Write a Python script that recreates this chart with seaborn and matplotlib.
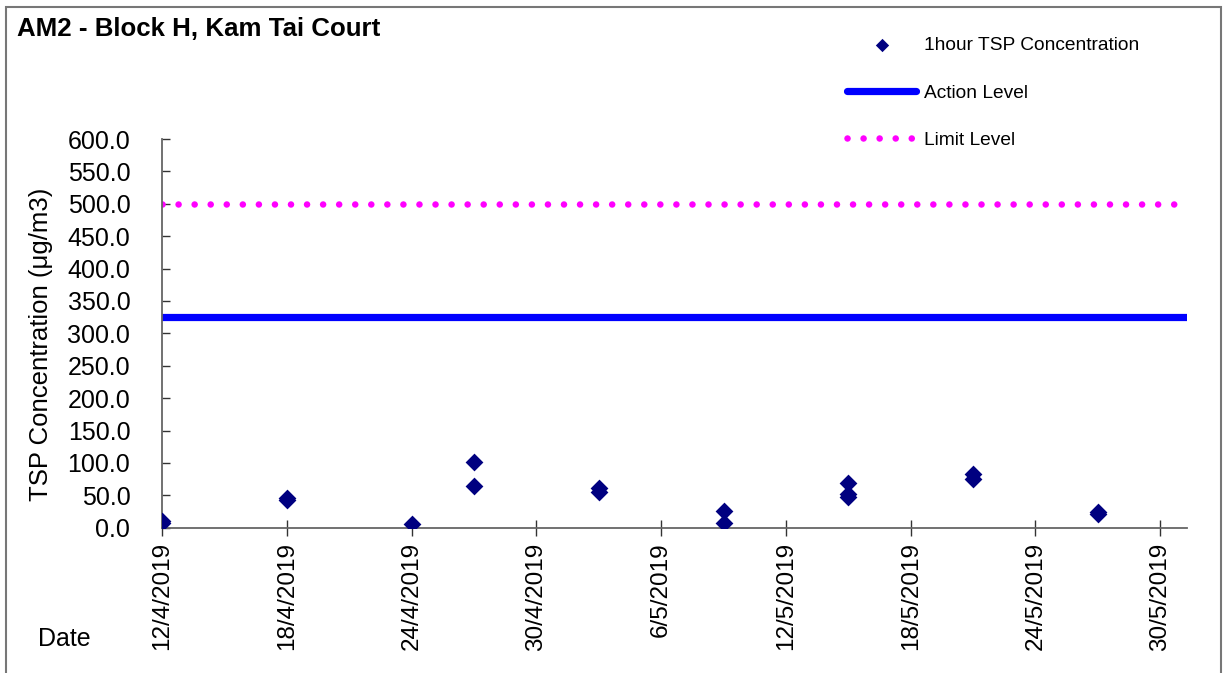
#!/usr/bin/env python3

"""
AM2 1-hour TSP concentration chart
"""

import pandas as pd
import numpy as np
import seaborn as sns
import matplotlib.pyplot as plt
import matplotlib.dates as mdates
from matplotlib.patches import Rectangle
from matplotlib.ticker import FuncFormatter, FixedLocator

sns.set_style("white")
plt.rcParams['font.family'] = ['Liberation Sans', 'DejaVu Sans']
plt.rcParams['text.color'] = 'black'
plt.rcParams['axes.labelcolor'] = 'black'

# readings (date, 1-hour TSP in ug/m3)
sample_dates = ["2019-04-12", "2019-04-12", "2019-04-18", "2019-04-18",
                "2019-04-24", "2019-04-27", "2019-04-27", "2019-05-03",
                "2019-05-03", "2019-05-09", "2019-05-09", "2019-05-15",
                "2019-05-15", "2019-05-15", "2019-05-21", "2019-05-21",
                "2019-05-27", "2019-05-27"]
tsp_values = [11, 7, 46, 42, 6, 102, 65, 61, 55, 26, 7, 69, 52, 48, 83, 75, 24, 21]

action_level = 325
limit_level = 500

x_start = "2019-04-12 00:00"
x_end = "2019-05-31 07:00"
tick_dates = ["2019-04-12", "2019-04-18", "2019-04-24", "2019-04-30", "2019-05-06",
              "2019-05-12", "2019-05-18", "2019-05-24", "2019-05-30"]
y_ticks = [0, 50, 100, 150, 200, 250, 300, 350, 400, 450, 500, 550, 600]

df = pd.DataFrame({"date": pd.to_datetime(sample_dates), "tsp": tsp_values})
span = pd.to_datetime([x_start, x_end], format="%Y-%m-%d %H:%M")

fig = plt.figure(figsize=(12.23, 6.73), dpi=100)
ax = fig.add_axes([162.3/1223, 1-527.7/673, (1187-162.3)/1223, 388.7/673])

sns.scatterplot(data=df, x="date", y="tsp", marker="D", color="#000080", s=82,
                linewidth=0, label="1hour TSP Concentration", ax=ax, zorder=3)
sns.lineplot(x=span, y=[action_level]*2, color="#0000FF", linewidth=5.2,
             solid_capstyle="round", label="Action Level", ax=ax)
sns.lineplot(x=span, y=[limit_level]*2, color="#FF00FF", linewidth=4.7,
             linestyle=(0, (0.01, 2.45)), dash_capstyle="round",
             label="Limit Level", ax=ax)

ax.set_xlim(span[0], span[1])
ax.set_ylim(0, 600)
ax.yaxis.set_major_locator(FixedLocator(y_ticks))
ax.yaxis.set_major_formatter(FuncFormatter(lambda v, p: f"{v:.1f}"))
ticks = pd.to_datetime(tick_dates)
ax.xaxis.set_major_locator(FixedLocator(mdates.date2num(ticks)))
ax.xaxis.set_major_formatter(FuncFormatter(
    lambda v, p: (lambda d: f"{d.day}/{d.month}/{d.year}")(mdates.num2date(v))))

for s in ["top", "right"]:
    ax.spines[s].set_visible(False)
for s in ["left", "bottom"]:
    ax.spines[s].set_color("#666666")
    ax.spines[s].set_linewidth(1.3)

ax.tick_params(axis="y", direction="in", length=6, width=1, color="#333333",
               pad=23, labelsize=18, labelcolor="black", left=True)
ax.tick_params(axis="x", direction="inout", length=11, width=1, color="#333333",
               pad=5, labelsize=17.5, labelcolor="black", labelrotation=90,
               bottom=True)
ax.set_xlabel("")
ax.set_ylabel("TSP Concentration (μg/m3)", fontsize=18.5)
ax.yaxis.set_label_coords(-0.107, 0.472)
ax.grid(False)

ax.get_legend().remove()
h, l = ax.get_legend_handles_labels()
fig.legend(h, l, loc="upper left", bbox_to_anchor=(847/1223, 1-37/673),
           frameon=False, fontsize=13.8, handlelength=3.6, handletextpad=0.42,
           labelspacing=1.55, borderpad=0, borderaxespad=0, markerscale=0.75)

fig.text(17/1223, 1-28.5/673, "AM2 - Block H, Kam Tai Court", fontsize=18.6,
         fontweight="bold", va="center", ha="left")
fig.text(38/1223, 1-639/673, "Date", fontsize=18, va="center", ha="left")

fig.add_artist(Rectangle((6/1223, -0.05), (1221-6)/1223, 1.05-7/673,
                         transform=fig.transFigure, fill=False,
                         edgecolor="#777777", linewidth=1.5))

plt.savefig("out.png", dpi=100)
